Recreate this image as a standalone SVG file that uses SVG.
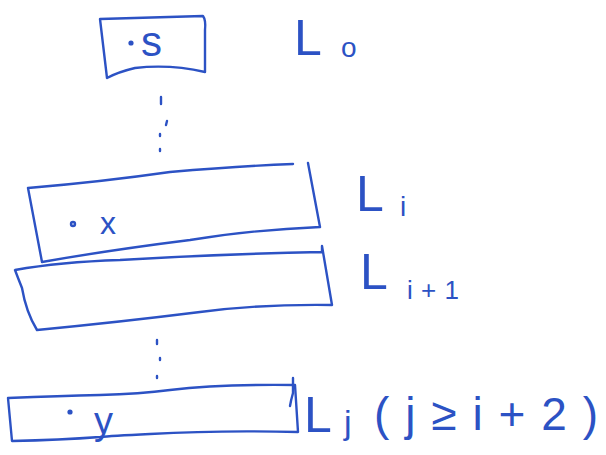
<svg xmlns="http://www.w3.org/2000/svg" width="606" height="455" viewBox="0 0 606 455">
<style>
.ink{fill:none;stroke:#2c52c4;stroke-width:2.4;stroke-linecap:round;stroke-linejoin:round}
.dot{fill:#2c52c4}
.t{fill:#2c52c4;font-family:"Liberation Sans",sans-serif}
</style>
<rect width="606" height="455" fill="#fff"/>
<g id="connectors">
<path class="ink" d="M161 97 L161 104 M167 121 L166 125 M160 134 L160 136 M160 149 L160 151"/>
<path class="ink" d="M157 340 L157 344 M160 358 L160 360 M157 376 L157 378" stroke-width="1.8"/>
</g>
<g id="L0">
<path class="ink" d="M100 19 L203 16 Q206 20 205 30 L205 72 Q170 64 135 68 Q118 72 107 78 Z"/>
<circle class="dot" cx="131" cy="43" r="2.6"/>
<text class="t" x="141" y="56" font-size="42">s</text>
<text class="t" x="294" y="55" font-size="50">L</text>
<text class="t" x="341" y="57" font-size="28">o</text>
</g>
<g id="Li">
<path class="ink" d="M28 188 Q100 182 170 172 Q240 166 293 164 M308 163 L320 227 Q250 230 190 240 Q110 250 42 262 L28 188"/>
<circle class="ink" cx="73" cy="224" r="2" stroke-width="1.8"/>
<text class="t" x="100" y="234" font-size="32">x</text>
<text class="t" x="356" y="211" font-size="50">L</text>
<text class="t" x="400" y="216" font-size="28">i</text>
</g>
<g id="Li1">
<path class="ink" d="M15 270 Q60 262 120 260 Q220 254 322 252 L322 246 L332 305 Q260 304 200 312 Q120 322 37 330 Q26 312 22 288 Q18 278 15 270 Z"/>
<text class="t" x="360" y="289" font-size="50">L</text>
<text class="t" x="407" y="299" font-size="26" textLength="52" lengthAdjust="spacing">i+1</text>
</g>
<g id="Lj">
<path class="ink" d="M8 398 Q60 396 100 395 Q140 394 170 390 Q220 384 295 385 L298 432 Q220 430 150 434 Q110 436 100 437 Q60 440 12 441 L8 398"/>
<path class="ink" d="M293 378 L293 393 Q291 400 290 406"/>
<circle class="dot" cx="70" cy="412" r="2.6"/>
<text class="t" x="94" y="434" font-size="38">y</text>
<text class="t" x="304" y="432" font-size="50">L</text>
<text class="t" x="344" y="434" font-size="34">j</text>
<text class="t" x="374" y="430" font-size="46" textLength="224" lengthAdjust="spacing">(j≥i+2)</text>
</g>
</svg>
